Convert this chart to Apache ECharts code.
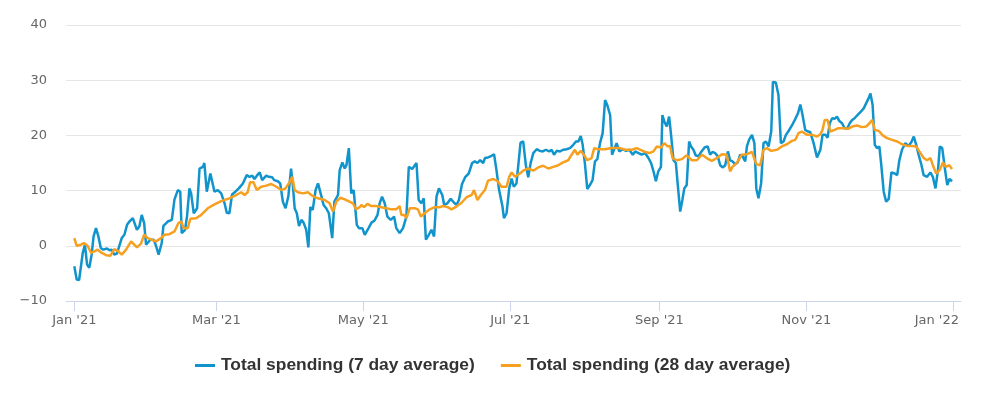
<!DOCTYPE html>
<html><head><meta charset="utf-8">
<script src="https://cdn.jsdelivr.net/npm/echarts@6/dist/echarts.min.js"></script>
<style>html,body{margin:0;padding:0;background:#fff}#c{width:1006px;height:394px}</style>
</head><body><div id="c"></div>
<script>
// Day offsets from 1 Jan 2021 and values
const blueDays = [0,1,2,3.5,4.4,5.3,6.2,7.2,8,9,10,11,12,13.6,14.6,15.5,16.6,17.7,18.7,19.7,20.8,21.9,22.9,24.3,26,27,28,29,29.8,31.6,33,34,35,36.3,37,38.8,40.5,41.6,43,44,44.6,46,46.8,47.8,48.5,49.6,51,52,53.4,54,55,56.5,57.2,58.2,59.6,61,62.4,63.3,64.4,65.5,66.9,68.3,70,71.6,72.8,73.9,74.8,75.8,77,78,79.7,80.8,82.2,83,84.5,85.5,86.6,87.7,88.9,90,90.8,91.5,92.4,93.3,94.3,95.2,96.3,97.2,98,99,100.2,101.2,102.6,103.5,104.6,105.7,107.1,108,109.5,110.2,111.3,112.3,113,114,115,116,117.3,118.2,119.6,120.6,122.2,123.4,124.7,125.9,126.8,127.8,128.9,130,131.4,132.8,133.7,135.1,136.5,137.9,138.9,140.3,142.1,143,144.1,145.1,146,147.2,148.3,149.4,150.4,151.4,152.8,153.6,154.9,156.3,157.7,158.7,159.7,161,162.4,163.8,165.2,166.3,167.4,168.5,169.8,170.5,171.8,173.3,174.3,175.3,176.4,177.8,178.4,179.5,180.6,181.6,182.5,183.6,184.3,185.3,186.4,187.5,188.5,189.5,190.6,192,193.3,194.5,195.8,197.2,198.2,199.2,200.3,201.7,203,204.4,205.8,207.2,208.3,209.3,210.3,211.1,212,213,214.1,215.2,216.2,217.2,218.3,219.4,220.4,221.3,222.5,223.3,224.1,225.2,226.3,227.7,229.1,230.5,231.9,232.9,234.3,235.6,237,238.4,239.5,240.5,241.5,242.5,243.6,244.2,245,246,247,247.8,248.8,249.8,250.6,251.6,252.5,253.3,254.3,255.3,256.1,257.1,258,259.2,260.3,261.7,263,264,265,266.1,267.2,268.2,269.2,270.3,271.4,272.3,273.3,274.4,275.5,276.5,277.5,278.6,279.3,280.2,281.4,282.4,283.2,284.1,285.2,286.2,287.2,288.3,289.4,290.1,291.3,292.4,293.4,294.5,295.5,296.6,298,299.4,300.5,301.5,302.4,303.5,304.6,305.6,307,308.4,309.8,310.7,311.9,312.8,313.7,314.7,315.7,316.7,317.7,318.8,319.9,320.9,322,323,324,325,326.4,327.8,328.8,329.9,330.6,331.5,332.4,333.3,334.3,335.1,336.1,337.1,338.2,339.3,340.7,341.7,342.6,343.7,345.1,346.5,347.6,348.6,349.6,350.6,351.8,352.7,354.1,355.5,356.5,357.6,358.7,359.4,360.4,361.5,362.5,363.4,364.5];
const blueVals = [-3.7,-6.1,-6.2,-1.3,0.2,-3.4,-4.0,-1.6,1.7,3.2,1.7,-0.4,-0.7,-0.5,-0.8,-0.7,-1.6,-1.4,0,1.4,2.0,3.8,4.4,5.0,2.9,3.5,5.6,4.1,0.2,1.1,1.1,-0.1,-1.6,0.5,3.6,4.4,4.7,8.4,10.1,9.8,2.3,2.9,5.3,10.4,9.5,5.9,6.8,14.0,14.3,15.0,9.8,13.1,13.3,9.8,10.1,9.5,7.7,6.0,5.9,9.3,9.8,10.4,11.3,12.8,12.5,12.7,12.1,12.7,13.3,11.9,12.7,12.5,12.4,11.9,11.7,11.3,8.0,6.8,9.0,14.0,10.7,6.8,5.9,3.6,4.7,4.2,2.9,-0.3,7.0,6.5,10.1,11.3,9.0,7.4,6.8,5.9,1.4,8.0,9.2,13.7,15.1,14.0,14.6,17.7,9.5,10.1,3.8,3.2,3.2,2.0,3.2,4.2,4.6,5.6,7.7,8.9,7.7,5.3,4.7,5.3,3.2,2.3,3.2,5.3,14.3,13.9,15.0,8.3,7.7,8.6,1.1,2.0,2.9,1.7,8.9,10.4,9.2,7.4,7.7,8.5,7.8,7.4,8.3,11.2,12.5,13.1,15.0,15.3,15.0,15.5,15.0,15.9,16.0,16.3,16.6,13.7,10.1,7.1,5.0,5.9,10.4,12.2,10.7,11.3,14.3,18.7,18.9,14.6,12.4,15.0,16.8,17.5,17.2,17.1,17.4,17.1,17.4,16.5,17.2,17.1,17.4,17.5,17.7,18.3,18.9,18.9,19.9,18.3,15.0,10.3,11.0,11.9,15.3,15.7,18.6,20.4,26.4,25.5,23.7,16.5,17.4,18.6,17.1,17.5,17.2,17.4,16.5,17.1,16.8,16.5,16.8,15.9,15.0,13.5,11.7,13.5,14.3,23.7,22.5,21.6,23.4,20.1,15.5,15.0,11.0,6.2,8.3,10.4,11.0,18.9,18.0,17.4,16.4,16.2,17.0,17.8,18.0,16.5,17.0,16.8,16.2,14.6,14.2,14.6,17.1,15.5,15.3,14.8,15.1,16.5,16.2,15.3,18.0,19.2,20.1,18.6,10.4,8.6,11.3,18.6,18.9,18.0,20.7,29.7,29.6,27.3,18.6,18.9,20.1,20.8,21.8,23.0,24.0,25.6,23.7,21.0,20.7,20.6,18.6,16.0,17.4,20.1,20.1,19.6,22.2,23.1,23.0,23.4,22.6,22.2,21.3,21.2,22.2,22.8,23.1,23.6,24.2,24.9,25.8,26.8,27.6,25.5,18.3,17.7,18.0,14.6,9.8,8.0,8.5,13.3,13.1,12.8,15.5,17.4,18.6,18.1,18.8,19.8,18.3,16.5,14.6,12.8,12.5,13.3,12.5,10.4,14.0,18.0,17.7,14.0,11.0,12.1,11.7];
const orangeDays = [0,1,2.8,4,5.5,7,8.3,9.7,11.4,13.2,15,16.6,18.3,19.7,21.5,23.6,26,27.7,29,30.5,32.1,34,36,37.4,39.5,41.6,43.2,44.4,45.4,47.1,48.2,50.6,52.7,55.4,58.2,61,64.4,67.2,69.3,70.7,72,73,74.4,75.8,77.6,79.7,81.8,83.9,86,87.7,89.4,90.5,91.5,92.8,95,97,99,101.2,104,106,107.4,108.8,110.5,112.3,114.3,115.7,117,118.5,119.2,120.3,121.7,123.4,125.4,127.5,129.6,131.7,133.7,135.1,135.8,136.9,137.9,139.3,141.4,142.7,143.9,145.5,147.6,149.7,151.8,153.2,155,156.6,158.7,160.8,162.9,165,166,167.4,168.8,170.5,171.8,174,175.8,177.4,179.5,180.6,181.6,183,184.7,186.4,188.5,190.6,192.6,194.7,196.8,198.9,201,203,205.1,206.5,207.9,208.9,210.3,211.6,213,214.8,215.9,217.6,220.4,223,226.6,228.7,231.5,233.5,237,238.8,240.5,241.9,243.7,245,246.4,247.4,248.4,250.2,252.3,254.3,256.4,258.5,260.6,262.6,264.7,266.8,268.9,270.9,272.3,273.3,275.1,277.2,279.3,281.4,283.2,284.8,286.2,287.6,289.4,291.8,293.8,295.9,298,299.4,300.7,302.1,304.3,306.4,308.4,309.8,310.7,311.6,312.8,313.9,315.7,317.3,319.5,321.3,323,325,327.1,328.8,330.2,331.3,332.4,334.1,335.7,337.5,339.6,341.7,343.7,345.8,347.9,349.6,350.9,352.7,354.1,355.5,356.5,357.9,359.3,360.7,361.9,363.3,364.5];
const orangeVals = [1.4,0,0.2,0.5,0,-1.3,-1.0,-0.7,-1.3,-1.7,-1.8,-0.6,-1.0,-1.6,-0.7,0.8,-0.3,0.4,2.0,1.4,1.1,0.8,1.4,2.0,2.1,2.6,4.1,4.4,3.2,3.2,4.9,5.0,5.6,6.8,7.5,8.1,8.6,9.2,9.7,9.2,9.7,11.5,11.5,10.1,10.7,10.9,11.2,10.7,10.1,10.4,11.5,12.5,10.1,9.7,9.5,9.7,9.0,8.6,8.3,7.7,6.2,8.0,8.7,8.4,8.0,7.7,6.6,7.0,7.4,7.0,7.6,7.2,7.2,7.0,6.8,6.6,6.6,7.2,5.6,5.6,5.0,6.8,6.8,6.6,5.3,5.9,6.6,7.0,7.0,7.2,7.0,6.6,7.1,7.8,8.8,9.2,10.1,8.3,9.2,10.1,11.8,12.1,11.7,10.7,10.7,12.5,13.3,12.5,13.0,13.6,14.0,13.6,14.2,14.5,14.0,14.3,14.6,15.1,15.5,16.5,17.4,16.5,17.2,16.5,15.5,15.9,17.7,17.5,17.5,17.7,17.7,17.4,17.4,17.7,17.0,16.8,17.1,18.0,17.8,18.6,18.0,18.1,15.9,15.5,15.7,16.4,15.5,15.5,16.5,15.9,15.4,15.9,16.6,16.5,13.5,14.3,15.0,16.5,16.6,17.0,14.8,14.6,17.4,17.7,17.2,17.4,18.0,18.4,19.0,19.2,20.4,20.7,20.1,20.1,19.8,20.2,21.0,22.8,22.8,20.7,21.0,21.3,21.3,21.2,21.6,21.8,21.5,21.6,22.2,22.8,21.0,20.8,20.0,19.5,19.2,18.9,18.4,18.1,18.1,18.0,17.1,15.9,15.5,15.9,14.6,13.1,13.7,15.1,14.3,14.6,13.9];
const tickDates = [[2021,0],[2021,2],[2021,4],[2021,6],[2021,8],[2021,10],[2022,0]];
const monthNames = ['Jan','Feb','Mar','Apr','May','Jun','Jul','Aug','Sep','Oct','Nov','Dec'];
const seriesNames = ['Total spending (7 day average)','Total spending (28 day average)'];
const yTicks = [-10, 0, 10, 20, 30, 40];

const DAY = 86400000;
const base = Date.UTC(2021,0,1);
const toPairs = (d, v) => d.map((x, i) => [base + x * DAY, v[i]]);
const tickVals = tickDates.map(t => Date.UTC(t[0], t[1], 1));
const lastTick = tickVals[tickVals.length - 1];

const chart = echarts.init(document.getElementById('c'), null, {renderer:'canvas'});
chart.setOption({
  animation: false,
  backgroundColor: '#ffffff',
  grid: {left: 66, right: 45, top: 25, bottom: 93, containLabel: false},
  legend: {
    left: 190, top: 352, icon: 'rect', itemWidth: 20, itemHeight: 3, itemGap: 26,
    textStyle: {fontFamily: 'Liberation Sans', fontWeight: 'bold', fontSize: 17.4, color: '#333333', padding: [0,0,0,1]},
    data: seriesNames
  },
  xAxis: {
    type: 'value',
    min: base - 3.45 * DAY,
    max: base + 368.2 * DAY,
    splitLine: {show: false},
    axisLine: {show: true, onZero: false, lineStyle: {color: '#ccd6eb', width: 1}},
    axisTick: {show: true, customValues: tickVals, length: 10, lineStyle: {color: '#ccd6eb'}},
    axisLabel: {
      customValues: tickVals, margin: 13,
      fontFamily: 'DejaVu Sans', fontSize: 13, color: '#666666',
      formatter: v => {
        const d = new Date(v);
        const s = monthNames[d.getUTCMonth()] + " '" + String(d.getUTCFullYear()).slice(2);
        return Math.abs(v - lastTick) < DAY ? '{r|' + s + '}' : s;
      },
      rich: {r: {fontFamily: 'DejaVu Sans', fontSize: 13, color: '#666666', padding: [0, 33, 0, 0]}}
    }
  },
  yAxis: {
    type: 'value', min: yTicks[0], max: yTicks[yTicks.length-1], interval: 10,
    axisLine: {show: false}, axisTick: {show: false},
    splitLine: {lineStyle: {color: '#e6e6e6', width: 1}},
    axisLabel: {margin: 19, fontFamily: 'DejaVu Sans', fontSize: 13, color: '#666666',
      formatter: v => v < 0 ? '\u2212' + Math.abs(v) : String(v)}
  },
  series: [
    {name: seriesNames[0], type: 'line', data: toPairs(blueDays, blueVals), showSymbol: false,
     color: '#1194cc', lineStyle: {width: 2.5, color: '#1194cc'}},
    {name: seriesNames[1], type: 'line', data: toPairs(orangeDays, orangeVals), showSymbol: false,
     color: '#f7a020', lineStyle: {width: 2.5, color: '#f7a020'}}
  ]
});
</script></body></html>
